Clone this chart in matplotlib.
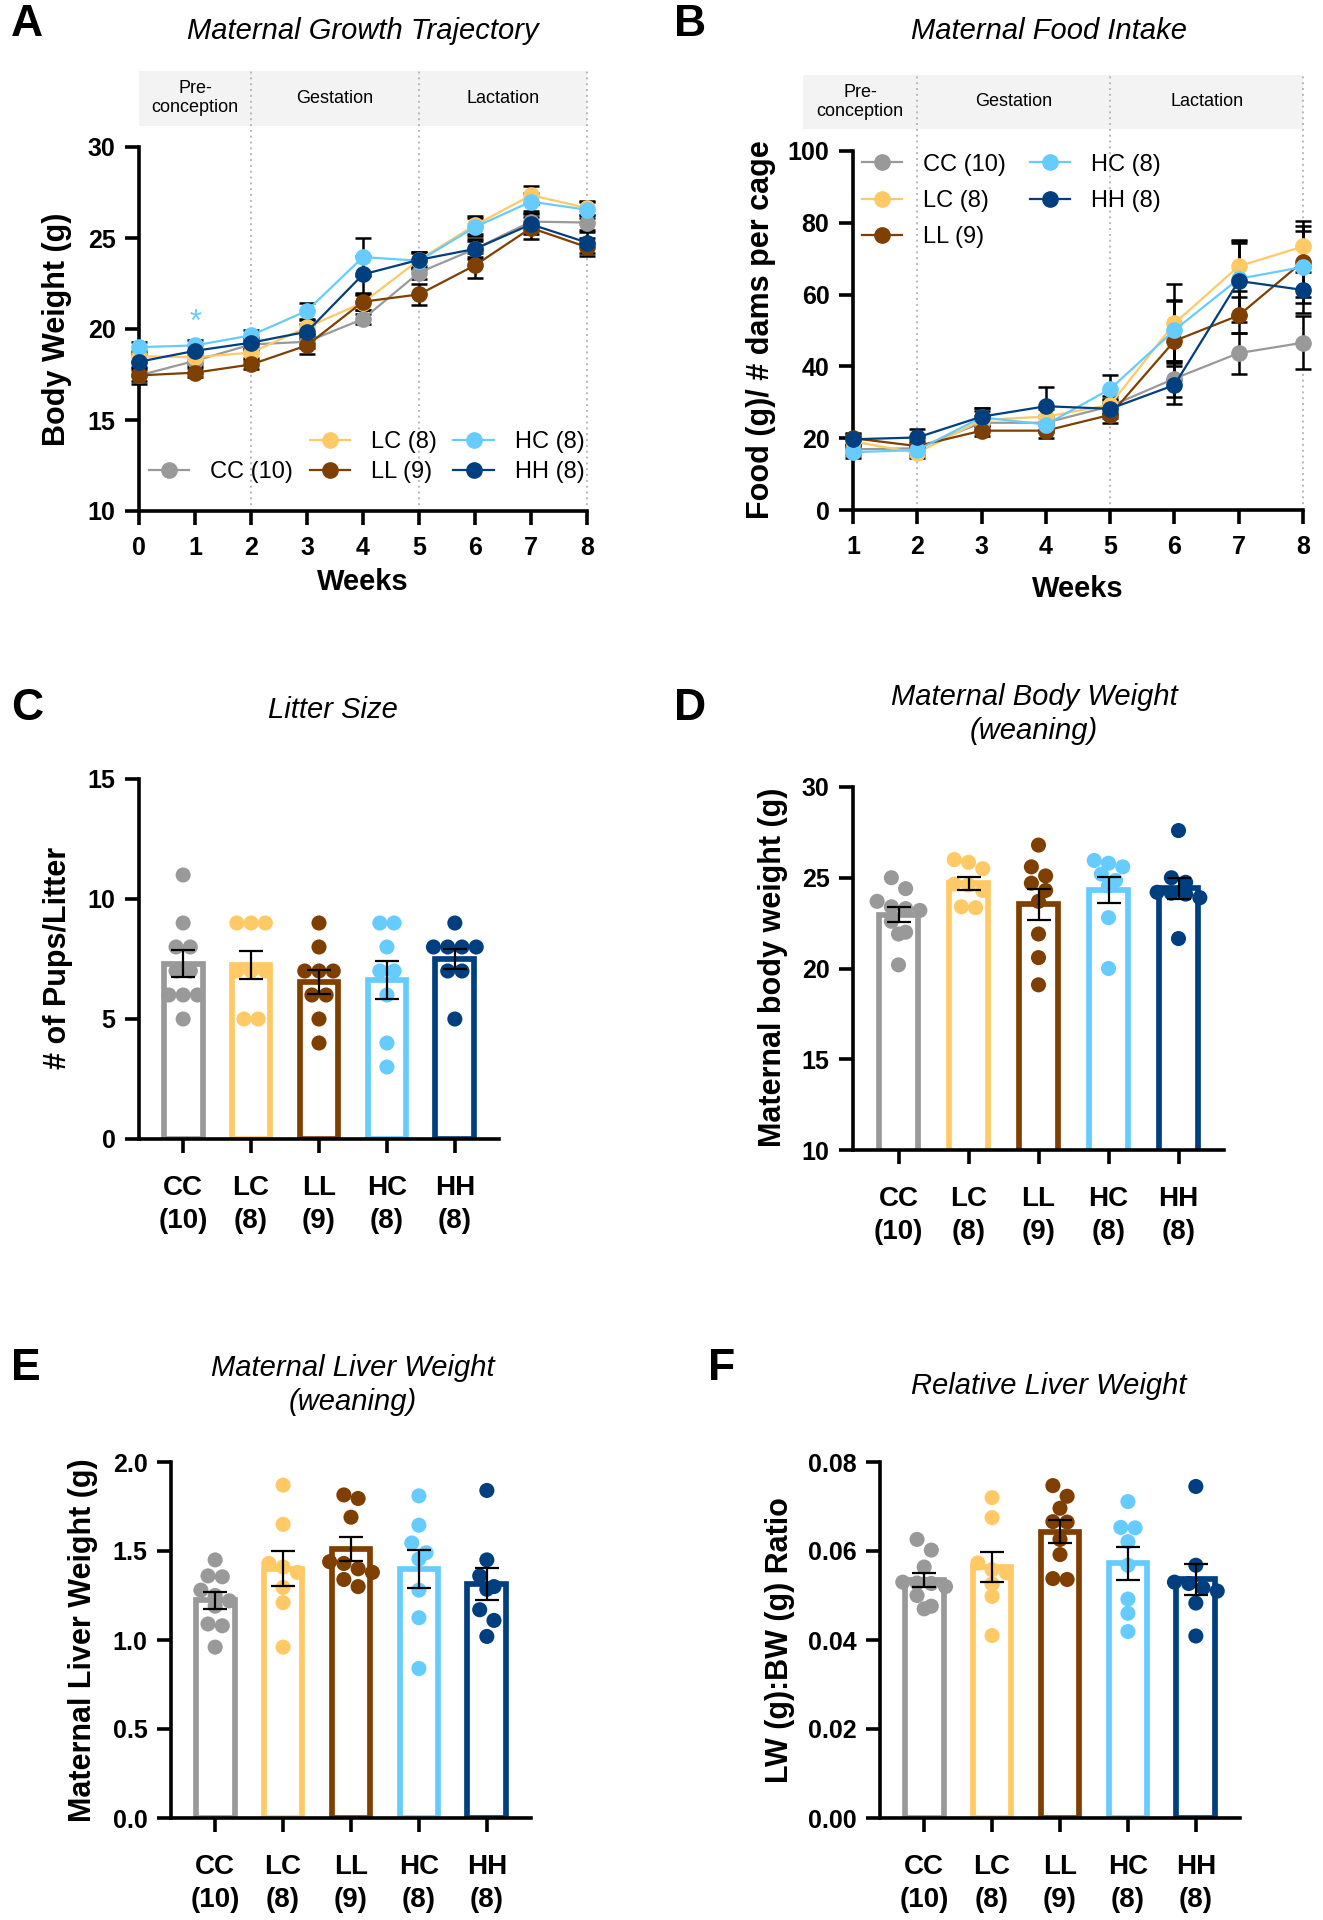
import matplotlib
matplotlib.use('Agg')
import matplotlib.pyplot as plt
import matplotlib.transforms as mtransforms
from matplotlib.patches import Rectangle
from matplotlib.lines import Line2D
from matplotlib.ticker import FormatStrFormatter
import numpy as np

plt.rcParams['font.family'] = ['Liberation Sans', 'DejaVu Sans']

W, H = 1323, 1920

groups = ['CC', 'LC', 'LL', 'HC', 'HH']
group_n = [10, 8, 9, 8, 8]
colors = ['#999999', '#FFC966', '#7F3F00', '#66CCFF', '#003F7F']

phases = ['Pre-\nconception', 'Gestation', 'Lactation']

# A - body weight trajectory (mean, sem), weeks 0-8
weeks_a = [0, 1, 2, 3, 4, 5, 6, 7, 8]
bw_mean = [
    [17.45, 18.25, 19.15, 19.30, 20.55, 23.10, 24.40, 25.90, 25.85],
    [18.50, 18.45, 18.70, 20.10, 21.45, 23.80, 25.70, 27.35, 26.65],
    [17.45, 17.60, 18.05, 19.10, 21.50, 21.90, 23.50, 25.55, 24.50],
    [19.00, 19.10, 19.65, 21.00, 23.95, 23.75, 25.60, 27.00, 26.55],
    [18.20, 18.80, 19.25, 19.85, 23.00, 23.80, 24.40, 25.75, 24.75],
]
bw_sem = [
    [0.45, 0.30, 0.30, 0.35, 0.30, 0.35, 0.45, 0.50, 0.40],
    [0.30, 0.30, 0.30, 0.40, 0.40, 0.45, 0.50, 0.50, 0.40],
    [0.30, 0.25, 0.25, 0.45, 0.45, 0.60, 0.70, 0.60, 0.50],
    [0.30, 0.30, 0.30, 0.45, 1.05, 0.45, 0.50, 0.50, 0.45],
    [0.35, 0.30, 0.30, 0.40, 1.00, 0.45, 0.55, 0.55, 0.60],
]

# B - food intake, weeks 1-8
weeks_b = [1, 2, 3, 4, 5, 6, 7, 8]
food_mean = [
    [16.9, 17.2, 24.3, 24.3, 28.9, 36.6, 43.7, 46.6],
    [19.1, 15.9, 25.1, 26.0, 29.3, 52.0, 67.9, 73.4],
    [20.0, 17.8, 22.1, 22.1, 26.5, 47.1, 54.2, 69.2],
    [16.1, 16.7, 25.8, 23.8, 33.7, 50.1, 64.4, 67.7],
    [19.7, 20.2, 26.0, 28.9, 28.2, 34.8, 63.8, 61.3],
]
food_sem = [
    [1.5, 1.5, 2.0, 2.0, 2.0, 5.0, 5.7, 7.4],
    [1.5, 1.5, 2.5, 2.0, 2.5, 11.0, 7.0, 7.0],
    [1.5, 1.5, 1.5, 2.0, 2.2, 11.0, 5.0, 10.0],
    [1.5, 1.5, 2.5, 2.0, 4.0, 8.5, 10.0, 10.0],
    [1.5, 2.5, 2.5, 5.3, 2.5, 5.2, 11.5, 6.5],
]

# C-F - individual dams per group
litter = [
    [11, 9, 8, 8, 7, 7, 6, 6, 6, 5],
    [9, 9, 9, 7, 7, 7, 5, 5],
    [9, 8, 7, 7, 7, 6, 6, 5, 4],
    [9, 9, 8, 7, 7, 6, 4, 3],
    [9, 8, 8, 8, 8, 7, 7, 5],
]
wean_bw = [
    [25.0, 24.4, 23.7, 23.4, 23.3, 23.2, 22.6, 22.0, 21.9, 20.2],
    [26.0, 25.85, 25.5, 24.65, 24.6, 24.3, 23.4, 23.35],
    [26.8, 25.6, 25.1, 24.7, 24.3, 23.7, 21.9, 20.6, 19.1],
    [25.95, 25.8, 25.6, 25.2, 24.85, 24.55, 22.8, 20.0],
    [27.6, 25.0, 24.75, 24.2, 24.15, 24.1, 23.9, 21.65],
]
liver = [
    [1.45, 1.36, 1.355, 1.28, 1.25, 1.22, 1.19, 1.09, 1.08, 0.96],
    [1.87, 1.65, 1.43, 1.41, 1.38, 1.295, 1.21, 0.96],
    [1.815, 1.795, 1.69, 1.44, 1.43, 1.40, 1.38, 1.34, 1.30],
    [1.81, 1.645, 1.545, 1.49, 1.455, 1.28, 1.125, 0.84],
    [1.84, 1.45, 1.36, 1.30, 1.285, 1.17, 1.11, 1.02],
]
ratio = [
    [0.0626, 0.0602, 0.0564, 0.0530, 0.0528, 0.0527, 0.0520, 0.0500, 0.0476, 0.0470],
    [0.0720, 0.0675, 0.0573, 0.0558, 0.0551, 0.0526, 0.0498, 0.0410],
    [0.0747, 0.0723, 0.0696, 0.0666, 0.0665, 0.0626, 0.0592, 0.0536, 0.0538],
    [0.0711, 0.0653, 0.0652, 0.0621, 0.0568, 0.0492, 0.0460, 0.0419],
    [0.0745, 0.0568, 0.0530, 0.0527, 0.0517, 0.0510, 0.0483, 0.0409],
]

fig = plt.figure(figsize=(W / 100, H / 100), dpi=100)


def px_axes(l, t, r, b):
    return fig.add_axes([l / W, 1 - b / H, (r - l) / W, (b - t) / H])


def px_text(x, y, s, **kw):
    fig.text(x / W, 1 - y / H, s, ha='center', va='center', **kw)


def style(ax):
    for side in ['top', 'right']:
        ax.spines[side].set_visible(False)
    for side in ['left', 'bottom']:
        ax.spines[side].set_linewidth(2.6)
    ax.tick_params(width=2.6, length=10, labelsize=18, pad=7)
    for lbl in ax.get_xticklabels() + ax.get_yticklabels():
        lbl.set_fontweight('bold')


def phase_band(ax, edges, y0=1.058, y1=1.21):
    trans = mtransforms.blended_transform_factory(ax.transData, ax.transAxes)
    ax.add_patch(Rectangle((edges[0], y0), edges[-1] - edges[0], y1 - y0,
                           transform=trans, facecolor='#f3f3f3',
                           edgecolor='none', clip_on=False, zorder=0))
    for xb in edges[1:]:
        ax.plot([xb, xb], [0, y1], transform=trans, color='#b8b8b8',
                ls=(0, (1, 2)), lw=1.4, clip_on=False, zorder=1)
    for i, name in enumerate(phases):
        ax.text((edges[i] + edges[i + 1]) / 2, (y0 + y1) / 2, name,
                transform=trans, ha='center', va='center', fontsize=13,
                linespacing=1.15)


def line_panel(ax, weeks, means, sems):
    for m, s, c in zip(means, sems, colors):
        ax.errorbar(weeks, m, yerr=s, fmt='none', ecolor='black',
                    elinewidth=1.8, capsize=6, capthick=1.8,
                    clip_on=False, zorder=3)
        ax.plot(weeks, m, color=c, lw=1.6, marker='o', markersize=11,
                clip_on=False, zorder=4)


def swarm_x(values, center, px_per_x, px_per_y, dot=15):
    order = np.argsort(values)[::-1]
    rows = []
    for i in order:
        if rows and abs(values[rows[-1][0]] - values[i]) * px_per_y < dot * 0.75:
            rows[-1].append(i)
        else:
            rows.append([i])
    xs = np.zeros(len(values))
    step = dot * 0.95 / px_per_x
    for row in rows:
        k = len(row)
        for j, i in enumerate(row):
            xs[i] = center + (j - (k - 1) / 2) * step
    return xs


def bar_panel(ax, data, ylim, yticks, rect):
    l, t, r, b = rect
    xlim = (-0.65, 4.65)
    px_per_x = (r - l) / (xlim[1] - xlim[0])
    px_per_y = (b - t) / (ylim[1] - ylim[0])
    x = np.arange(len(groups))
    means = [np.mean(v) for v in data]
    sems = [np.std(v, ddof=1) / np.sqrt(len(v)) for v in data]
    ax.bar(x, means, width=0.57, facecolor='white', edgecolor=colors,
           linewidth=4.1, zorder=2)
    for i, v in enumerate(data):
        xs = swarm_x(np.array(v), x[i], px_per_x, px_per_y)
        ax.scatter(xs, v, s=118, color=colors[i], edgecolors='none',
                   zorder=3, clip_on=False)
    ax.errorbar(x, means, yerr=sems, fmt='none', ecolor='black',
                elinewidth=1.6, capsize=8.5, capthick=1.6, zorder=4)
    ax.set_xlim(*xlim)
    ax.set_ylim(*ylim)
    ax.set_yticks(yticks)
    ax.set_xticks(x)
    ax.set_xticklabels([f'{g}\n({n})' for g, n in zip(groups, group_n)],
                       linespacing=1.35)
    style(ax)
    ax.tick_params(axis='x', labelsize=20, pad=16)


# ---- A ----
rect_a = (139, 147, 587, 511)
ax = px_axes(*rect_a)
line_panel(ax, weeks_a, bw_mean, bw_sem)
ax.set_xlim(0, 8)
ax.set_ylim(10, 30)
ax.set_xticks(weeks_a)
ax.set_yticks([10, 15, 20, 25, 30])
style(ax)
ax.tick_params(axis='x', pad=8)
phase_band(ax, [0, 2, 5, 8])
ax.text(1, 20.35, '*', color=colors[3], fontsize=22, ha='center', va='center')
handles = [Line2D([], [], ls='none', marker='none')]
handles += [Line2D([], [], color=c, lw=1.6, marker='o', markersize=11) for c in colors]
labels = [' '] + [f'{g} ({n})' for g, n in zip(groups, group_n)]
ax.legend(handles, labels, ncol=3, loc='upper left', bbox_to_anchor=(0.022, 0.219),
          frameon=False, fontsize=17, handlelength=1.7, handletextpad=0.9,
          columnspacing=0.7, labelspacing=0.32, borderpad=0, borderaxespad=0)
px_text(57, 329, 'Body Weight (g)', rotation=90, fontsize=22, fontweight='bold')
px_text(363, 582, 'Weeks', fontsize=21, fontweight='bold')
px_text(363, 31, 'Maternal Growth Trajectory', fontsize=21, style='italic')
px_text(27, 25, 'A', fontsize=32, fontweight='bold')

# ---- B ----
rect_b = (853, 151, 1303, 510)
ax = px_axes(*rect_b)
line_panel(ax, weeks_b, food_mean, food_sem)
ax.set_xlim(1, 8)
ax.set_ylim(0, 100)
ax.set_xticks(weeks_b)
ax.set_yticks([0, 20, 40, 60, 80, 100])
style(ax)
ax.tick_params(axis='x', pad=8)
phase_band(ax, [0.22, 2, 5, 8], y0=1.062, y1=1.212)
handles = [Line2D([], [], color=c, lw=1.6, marker='o', markersize=11) for c in colors]
handles += [Line2D([], [], ls='none', marker='none')]
labels = [f'{g} ({n})' for g, n in zip(groups, group_n)] + [' ']
ax.legend(handles, labels, ncol=2, loc='upper left', bbox_to_anchor=(0.02, 0.993),
          frameon=False, fontsize=17, handlelength=1.7, handletextpad=0.9,
          columnspacing=1.0, labelspacing=0.61, borderpad=0, borderaxespad=0)
px_text(761, 330, 'Food (g)/ # dams per cage', rotation=90, fontsize=22, fontweight='bold')
px_text(1078, 589, 'Weeks', fontsize=21, fontweight='bold')
px_text(1049, 31, 'Maternal Food Intake', fontsize=21, style='italic')
px_text(690, 25, 'B', fontsize=32, fontweight='bold')

# ---- C ----
rect_c = (139, 779, 499, 1139)
ax = px_axes(*rect_c)
bar_panel(ax, litter, (0, 15), [0, 5, 10, 15], rect_c)
px_text(58, 958, '# of Pups/Litter', rotation=90, fontsize=22, fontweight='bold')
px_text(333, 710, 'Litter Size', fontsize=21, style='italic')
px_text(27, 708, 'C', fontsize=32, fontweight='bold')

# ---- D ----
rect_d = (853, 787, 1224, 1150)
ax = px_axes(*rect_d)
bar_panel(ax, wean_bw, (10, 30), [10, 15, 20, 25, 30], rect_d)
px_text(773, 967, 'Maternal body weight (g)', rotation=90, fontsize=22, fontweight='bold')
px_text(1034, 714, 'Maternal Body Weight\n(weaning)', fontsize=21, style='italic',
        linespacing=1.24)
px_text(690, 708, 'D', fontsize=32, fontweight='bold')

# ---- E ----
rect_e = (171, 1462, 531, 1818)
ax = px_axes(*rect_e)
bar_panel(ax, liver, (0, 2.0), [0.0, 0.5, 1.0, 1.5, 2.0], rect_e)
ax.yaxis.set_major_formatter(FormatStrFormatter('%.1f'))
for lbl in ax.get_yticklabels():
    lbl.set_fontweight('bold')
px_text(83, 1640, 'Maternal Liver Weight (g)', rotation=90, fontsize=22, fontweight='bold')
px_text(353, 1385, 'Maternal Liver Weight\n(weaning)', fontsize=21, style='italic',
        linespacing=1.24)
px_text(26, 1368, 'E', fontsize=32, fontweight='bold')

# ---- F ----
rect_f = (880, 1462, 1240, 1818)
ax = px_axes(*rect_f)
bar_panel(ax, ratio, (0, 0.08), [0.0, 0.02, 0.04, 0.06, 0.08], rect_f)
ax.yaxis.set_major_formatter(FormatStrFormatter('%.2f'))
for lbl in ax.get_yticklabels():
    lbl.set_fontweight('bold')
px_text(780, 1640, 'LW (g):BW (g) Ratio', rotation=90, fontsize=22, fontweight='bold')
px_text(1049, 1386, 'Relative Liver Weight', fontsize=21, style='italic')
px_text(722, 1368, 'F', fontsize=32, fontweight='bold')

fig.savefig('out.png', dpi=100)
